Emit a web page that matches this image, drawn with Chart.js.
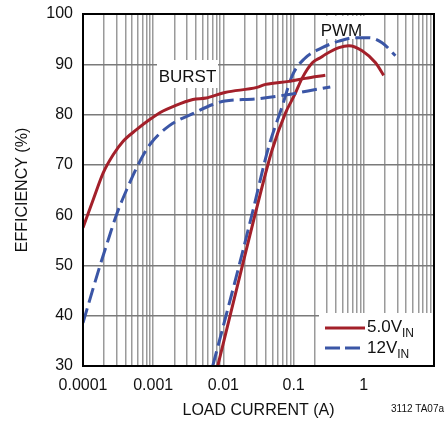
<!DOCTYPE html>
<html>
<head>
<meta charset="utf-8">
<script src="https://cdn.jsdelivr.net/npm/chart.js@4.4.0/dist/chart.umd.min.js"></script>
<style>
  html, body { margin: 0; padding: 0; background: #fff; }
  #wrap { position: relative; width: 446px; height: 426px; }
</style>
</head>
<body>
<div id="wrap"><canvas id="chartEff"></canvas></div>
<script>
// ---- data (load current in A, efficiency in %) ----
const BURST_5V_X  = [0.0001, 0.00014, 0.000194, 0.000269, 0.000373, 0.000578, 0.000892, 0.00138, 0.00191, 0.00367, 0.00569, 0.0105, 0.03, 0.04, 0.0855, 0.147, 0.283];
const BURST_5V_Y  = [57.5, 63.1, 68.4, 72.0, 74.7, 77.0, 79.0, 80.7, 81.6, 83.0, 83.3, 84.4, 85.4, 86.0, 86.6, 87.2, 87.8];
const BURST_12V_X = [0.0001, 0.000174, 0.000229, 0.0003, 0.00042, 0.000609, 0.000892, 0.0017, 0.00367, 0.00705, 0.0105, 0.0287, 0.0855, 0.16, 0.333];
const BURST_12V_Y = [38.6, 49.9, 55.1, 60.1, 65.1, 70.0, 74.0, 77.8, 80.2, 82.0, 82.7, 83.1, 84.0, 84.7, 85.5];
const PWM_5V_X    = [0.0083, 0.0186, 0.0287, 0.0495, 0.0765, 0.104, 0.133, 0.185, 0.24, 0.286, 0.442, 0.613, 0.946, 1.47, 1.92];
const PWM_5V_Y    = [30.0, 49.9, 60.5, 73.0, 80.3, 84.0, 87.3, 90.3, 91.3, 92.0, 93.3, 93.7, 92.7, 90.3, 87.8];
const PWM_12V_X   = [0.00705, 0.0167, 0.0258, 0.0444, 0.0687, 0.0953, 0.14, 0.256, 0.442, 0.762, 1.18, 1.82, 2.82];
const PWM_12V_Y   = [30.0, 49.9, 60.4, 73.7, 81.6, 87.7, 91.0, 93.3, 94.6, 95.3, 95.3, 94.3, 91.7];

const X_DECADES = [0.0001, 0.001, 0.01, 0.1, 1, 10];
const X_LABELS  = ['0.0001', '0.001', '0.01', '0.1', '1', ''];
const Y_TICKS   = [30, 40, 50, 60, 70, 80, 90, 100];

const RED  = '#a3202a';
const BLUE = '#3b56a6';
const FONT = "'Liberation Sans', Arial, sans-serif";

function toPoints(xs, ys) {
  return xs.map((x, i) => ({ x: x, y: ys[i] }));
}

// 1..9 per decade for the log grid
function logTicks() {
  const t = [];
  for (let d = 0; d < X_DECADES.length - 1; d++) {
    for (let k = 1; k < 10; k++) t.push({ value: X_DECADES[d] * k });
  }
  t.push({ value: X_DECADES[X_DECADES.length - 1] });
  return t;
}

function decadeLabel(v) {
  for (let i = 0; i < X_DECADES.length; i++) {
    if (Math.abs(v / X_DECADES[i] - 1) < 1e-6) return X_LABELS[i];
  }
  return '';
}

// white boxes with text, legend, plot frame, figure number
const annotations = {
  id: 'annotations',
  beforeDatasetsDraw(chart) {
    const c = chart.ctx;
    c.save();
    c.fillStyle = '#fff';
    c.fillRect(157, 60, 61, 28);   // BURST
    c.fillRect(318, 16, 48, 23);   // PWM
    c.fillRect(319, 313, 115, 52); // legend
    c.fillStyle = '#111';
    c.font = '17px ' + FONT;
    c.textAlign = 'center';
    c.textBaseline = 'alphabetic';
    c.fillText('BURST', 187.5, 82);
    c.fillText('PWM', 341.5, 36);
    c.restore();
  },
  afterDraw(chart) {
    const c = chart.ctx;
    const a = chart.chartArea;
    c.save();
    c.strokeStyle = '#000';
    c.lineWidth = 2;
    c.strokeRect(a.left, a.top, a.right - a.left, a.bottom - a.top);

    // legend
    c.lineWidth = 3;
    c.strokeStyle = RED;
    c.beginPath(); c.moveTo(325, 328); c.lineTo(365, 328); c.stroke();
    c.strokeStyle = BLUE;
    c.setLineDash([15, 5]);
    c.beginPath(); c.moveTo(325, 348); c.lineTo(365, 348); c.stroke();
    c.setLineDash([]);

    c.fillStyle = '#111';
    c.textAlign = 'left';
    c.textBaseline = 'alphabetic';
    c.font = '17px ' + FONT;
    c.fillText('5.0V', 367, 332);
    let w = c.measureText('5.0V').width;
    c.font = '12px ' + FONT;
    c.fillText('IN', 367 + w, 337);
    c.font = '17px ' + FONT;
    c.fillText('12V', 367, 353);
    w = c.measureText('12V').width;
    c.font = '12px ' + FONT;
    c.fillText('IN', 367 + w, 358);

    c.font = '10px ' + FONT;
    c.textAlign = 'right';
    c.fillText('3112 TA07a', 444, 412);
    c.restore();
  }
};

function createEffChart() {
  const ctx = document.getElementById('chartEff');

  const lineSet = (label, xs, ys, color, dash) => ({
    label: label,
    data: toPoints(xs, ys),
    borderColor: color,
    borderWidth: 3,
    borderDash: dash,
    pointRadius: 0,
    fill: false,
    cubicInterpolationMode: 'monotone'
  });

  new Chart(ctx, {
    type: 'line',
    data: {
      datasets: [
        lineSet('5.0V burst', BURST_5V_X, BURST_5V_Y, RED, []),
        lineSet('12V burst', BURST_12V_X, BURST_12V_Y, BLUE, [15, 6]),
        lineSet('5.0V pwm', PWM_5V_X, PWM_5V_Y, RED, []),
        lineSet('12V pwm', PWM_12V_X, PWM_12V_Y, BLUE, [15, 6])
      ]
    },
    options: {
      responsive: true,
      maintainAspectRatio: false,
      animation: false,
      layout: { padding: { top: 14, right: 12, left: 0, bottom: 0 } },
      plugins: {
        legend: { display: false },
        tooltip: { enabled: false }
      },
      scales: {
        x: {
          type: 'logarithmic',
          min: X_DECADES[0],
          max: X_DECADES[X_DECADES.length - 1],
          afterBuildTicks: (s) => { s.ticks = logTicks(); },
          afterFit: (s) => { s.height = 60; },
          grid: { color: '#9a9a9a', lineWidth: 1.5, drawTicks: false },
          border: { display: false },
          ticks: {
            autoSkip: false,
            maxRotation: 0,
            padding: 10,
            color: '#111',
            font: { family: FONT, size: 16 },
            callback: (v) => decadeLabel(v)
          },
          title: {
            display: true,
            text: 'LOAD CURRENT (A)',
            color: '#111',
            font: { family: FONT, size: 16 },
            padding: { top: 0, bottom: 6 }
          }
        },
        y: {
          min: Y_TICKS[0],
          max: Y_TICKS[Y_TICKS.length - 1],
          afterBuildTicks: (s) => { s.ticks = Y_TICKS.map(v => ({ value: v })); },
          afterFit: (s) => { s.width = 83; s.paddingTop = 0; s.paddingBottom = 0; },
          grid: { color: '#7a7a7a', lineWidth: 1.5, drawTicks: false },
          border: { display: false },
          ticks: {
            padding: 10,
            color: '#111',
            font: { family: FONT, size: 16 }
          },
          title: {
            display: true,
            text: 'EFFICIENCY (%)',
            color: '#111',
            font: { family: FONT, size: 16 },
            padding: { top: 13, bottom: 0 }
          }
        }
      }
    },
    plugins: [annotations]
  });
}

document.addEventListener('DOMContentLoaded', createEffChart);
</script>
</body>
</html>
